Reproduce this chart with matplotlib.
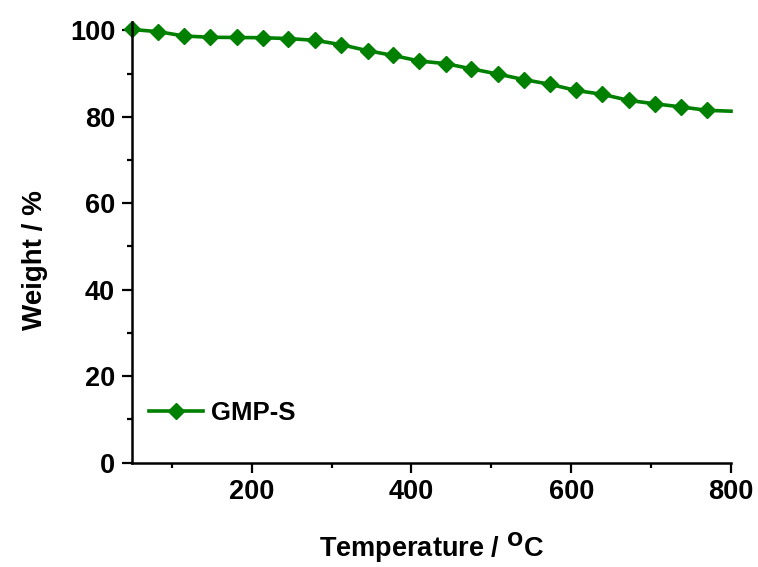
import matplotlib
matplotlib.use("Agg")
import matplotlib.pyplot as plt
from matplotlib.ticker import MultipleLocator

plt.rcParams['font.family'] = ['Liberation Sans', 'DejaVu Sans']
plt.rcParams['font.weight'] = 'bold'
plt.rcParams['mathtext.default'] = 'bf'

temperature = [50, 83, 115, 148, 181, 214, 246, 279, 312, 345, 377, 410,
               443, 475, 508, 541, 574, 606, 639, 672, 705, 737, 770, 800]
weight = [100.2, 99.7, 98.7, 98.4, 98.35, 98.3, 98.1, 97.7, 96.7, 95.3, 94.2, 92.9,
          92.3, 91.1, 89.9, 88.6, 87.5, 86.1, 85.2, 83.8, 83.0, 82.3, 81.5, 81.3]
series_label = "GMP-S"

fig = plt.figure(figsize=(7.58, 5.67), dpi=100)
ax = fig.add_axes([0.174, 0.1841, 0.7904, 0.7776])

ax.plot(temperature, weight, color='#008000', lw=2.6, marker='D', markersize=8,
        markevery=list(range(len(temperature) - 1)), label=series_label, clip_on=False)

ax.set_xlim(50, 800)
ax.set_ylim(0, 102)
ax.xaxis.set_major_locator(MultipleLocator(200))
ax.xaxis.set_minor_locator(MultipleLocator(100))
ax.yaxis.set_major_locator(MultipleLocator(20))
ax.yaxis.set_minor_locator(MultipleLocator(10))

for s in ['top', 'right']:
    ax.spines[s].set_visible(False)
for s in ['left', 'bottom']:
    ax.spines[s].set_linewidth(1.8)

ax.tick_params(which='major', direction='out', length=7, width=1.6, labelsize=19.5, pad=5)
ax.tick_params(which='minor', direction='out', length=3.5, width=1.6)
for lab in ax.get_xticklabels() + ax.get_yticklabels():
    lab.set_fontweight('bold')

ax.set_xlabel('Temperature / $\\mathbf{^{O}}$C', fontsize=19.5, fontweight='bold')
ax.set_ylabel('Weight / %', fontsize=20, fontweight='bold')
ax.xaxis.set_label_coords(0.5, -0.155)
ax.yaxis.set_label_coords(-0.14, 0.46)

leg = ax.legend(loc='lower left', bbox_to_anchor=(-0.01, 0.033), frameon=False,
                fontsize=18.5, handlelength=2.1, handletextpad=0.3)
for t in leg.get_texts():
    t.set_fontweight('bold')

fig.savefig('out.png', dpi=100)
